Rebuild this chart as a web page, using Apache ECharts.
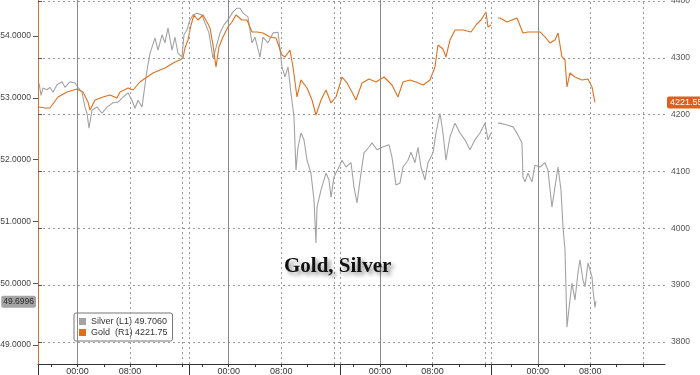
<!DOCTYPE html>
<html>
<head>
<meta charset="utf-8">
<script src="https://cdn.jsdelivr.net/npm/echarts@6/dist/echarts.min.js"></script>
<style>html,body{margin:0;padding:0;background:#fff;}#c{width:700px;height:375px;}</style>
</head>
<body>
<div id="c"></div>
<script>
// Trading-hour index (0 = session open 18:00)
const silverHours = [0.15,0.46,0.76,1.37,1.82,2.28,2.89,3.65,4.11,4.87,5.63,6.08,6.69,7.15,7.45,7.76,8.21,8.97,9.73,10.49,11.41,12.17,12.93,13.69,14.29,14.75,15.21,15.82,16.27,16.58,17.03,17.79,18.25,18.86,19.31,19.77,20.38,20.83,21.29,21.90,22.20,22.66,23.11,23.57,24.18,24.94,25.40,26.00,26.61,27.07,27.68,28.28,28.89,29.65,30.26,30.72,31.17,31.93,32.54,33.00,33.76,34.21,34.98,35.74,36.50,37.10,37.56,38.02,38.47,38.93,39.23,39.54,39.99,40.45,40.91,41.51,41.97,42.27,42.43,43.04,43.80,44.25,44.56,45.01,45.77,46.23,46.84,47.60,48.05,48.51,49.12,49.57,50.33,50.79,51.55,52.31,53.38,53.83,54.44,55.05,55.50,56.27,56.72,57.33,57.79,58.24,58.85,59.31,60.07,60.52,61.13,61.59,62.04,62.65,63.41,64.17,64.93,65.69,66.45,67.21,67.97,68.43,68.89,69.40,69.95,70.26,71.32,72.23,72.99,73.60,73.75,74.06,74.51,75.12,75.58,76.34,77.10,77.55,78.16,78.62,79.08,79.53,79.84,80.14,80.44,80.90,81.20,81.66,82.12,82.42,82.88,83.18,83.64,84.25,84.40,84.70,84.85];
const silverValues = [53.24,53.04,53.16,53.13,53.17,53.09,53.21,53.26,53.17,53.26,53.24,53.17,53.09,52.85,52.75,52.51,52.80,52.85,52.75,52.85,52.92,52.93,53.01,53.08,52.96,52.83,52.96,52.85,53.21,53.45,53.72,53.97,53.77,54.02,53.89,54.13,53.77,53.98,53.72,53.66,54.02,54.10,54.26,54.34,54.37,54.34,54.21,54.05,53.64,53.81,54.05,54.18,54.26,54.39,54.45,54.45,54.37,54.31,53.89,53.98,53.66,53.98,53.89,54.05,54.06,53.50,53.34,53.50,53.08,52.69,51.83,52.20,52.43,52.32,51.99,51.78,51.35,50.65,51.23,51.51,51.78,51.67,51.39,51.72,51.88,51.99,51.88,51.95,51.56,51.30,51.78,52.11,52.20,52.27,52.16,52.20,52.24,52.04,51.59,51.62,51.88,51.99,52.12,51.95,52.20,51.88,51.67,51.95,52.11,52.43,52.75,52.43,51.99,52.37,52.59,52.43,52.32,52.16,52.32,52.43,52.59,52.32,52.43,null,52.59,52.59,52.56,52.53,52.40,52.27,51.72,51.64,51.78,51.64,51.91,51.88,51.95,51.83,51.23,51.56,51.88,51.51,50.91,50.54,49.29,49.73,50.00,49.73,50.17,50.38,50.05,49.94,50.33,50.10,49.89,49.61,49.71];

const goldHours = [0.15,1.06,1.82,3.04,4.41,5.93,6.84,7.60,7.91,8.67,9.88,10.95,12.01,12.47,13.69,14.45,15.51,16.58,17.49,18.55,19.31,20.07,20.83,21.59,22.05,22.35,22.81,23.27,23.72,24.33,25.09,25.70,26.16,26.61,27.07,27.52,28.13,28.89,29.50,30.11,31.02,31.78,32.54,33.30,34.21,35.28,36.19,37.10,37.56,38.32,38.78,39.39,39.99,40.91,41.67,42.27,43.04,43.80,44.56,45.32,46.23,46.99,47.75,48.36,49.27,50.33,51.40,52.62,53.83,54.74,55.50,56.57,57.48,58.55,59.61,60.37,60.83,61.59,62.04,62.65,63.41,64.63,65.85,66.61,67.37,68.13,68.43,68.89,69.40,69.95,70.26,71.32,72.08,72.84,73.75,74.51,75.27,76.34,77.10,77.86,78.62,79.08,79.68,80.14,80.44,80.90,81.66,82.73,83.64,84.25,84.70];
const goldValues = [4213.6,4211.9,4211.9,4231.2,4240.0,4245.3,4240.0,4222.4,4208.3,4225.9,4231.2,4234.8,4229.5,4240.0,4247.1,4243.5,4257.6,4266.4,4273.5,4278.8,4282.3,4287.6,4292.8,4296.4,4299.9,4317.5,4331.6,4358.0,4375.6,4366.8,4375.6,4363.3,4352.7,4322.8,4284.0,4319.2,4336.9,4354.5,4363.3,4375.6,4366.8,4366.8,4345.7,4345.7,4343.9,4336.9,4335.1,4305.2,4301.6,4314.0,4284.0,4231.2,4261.2,4247.1,4225.9,4199.5,4225.9,4243.5,4220.7,4231.2,4266.4,4255.9,4240.0,4225.9,4255.9,4262.9,4257.6,4266.4,4252.3,4231.2,4257.6,4261.2,4257.6,4252.3,4261.2,4284.0,4322.8,4315.7,4301.6,4331.6,4349.2,4349.2,4345.7,4358.0,4366.8,4380.9,4354.5,4358.0,null,4370.3,4370.3,4363.3,4366.8,4370.3,4343.9,4345.7,4345.7,4345.7,4336.9,4326.3,4331.6,4343.9,4301.6,4296.4,4248.8,4273.5,4266.4,4261.2,4262.9,4248.8,4221.6];

const xLabelHours = [6,14,29,37,52,60,76,84];
const xLabelTexts = ['00:00','08:00','00:00','08:00','00:00','08:00','00:00','08:00'];
const minorTickHours = [2,6,10,14,18,22,25,29,33,37,41,45,48,52,56,60,64,68,72,76,80,84,88,92];
const sessionBreakHours = [0,23,46,69];
const midnightHours = [6,29,52,76];
const dottedHours = [14,22,23,37,45,46,60,68,69,84,92];
const silverTicks = [49,50,51,52,53,54];
const goldTicks = [3800,3900,4000,4100,4200,4300,4400];
const silverLast = 49.6996, goldLast = 4221.55;
const legendText = {Silver: 'Silver (L1) 49.7060', Gold: 'Gold  (R1) 4221.75'};

const zip = (a, b) => a.map((h, i) => [h, b[i]]);
const X_MAX = 95.35;
const GRID_C = '#9a9a9a';

const vLines = midnightHours.map(h => ({xAxis: h, lineStyle: {type: 'solid', color: '#8a8a8a', width: 1}}))
  .concat(dottedHours.map(h => ({xAxis: h, lineStyle: {type: [2, 3], color: GRID_C, width: 1}})));

const chart = echarts.init(document.getElementById('c'), null, {renderer: 'canvas'});
chart.setOption({
  animation: false,
  backgroundColor: '#fff',
  grid: {left: 38, right: 35, top: 0, bottom: 11, containLabel: false, outerBoundsMode: 'none'},
  title: {
    text: 'Gold, Silver', left: 279, top: 251,
    textStyle: {fontFamily: '"Liberation Serif", serif', fontWeight: 'bold', fontSize: 21, color: '#111',
      textShadowColor: 'rgba(0,0,0,0.45)', textShadowBlur: 4, textShadowOffsetX: 3, textShadowOffsetY: 3}
  },
  legend: {
    orient: 'vertical', left: 74, top: 313, itemWidth: 7, itemHeight: 7, itemGap: 2,
    padding: [4, 5, 4, 5], backgroundColor: '#fff', borderColor: '#777', borderWidth: 1, borderRadius: 2,
    textStyle: {fontFamily: '"Liberation Sans", Arial', fontSize: 9, color: '#333'},
    formatter: n => legendText[n],
    data: [{name: 'Silver', icon: 'rect'}, {name: 'Gold', icon: 'rect'}]
  },
  xAxis: [{
    type: 'value', min: 0, max: X_MAX,
    axisLine: {show: true, onZero: false, lineStyle: {color: '#333', width: 1}},
    axisTick: {show: true, length: 3, customValues: minorTickHours, lineStyle: {color: '#333'}},
    axisLabel: {show: true, customValues: xLabelHours, margin: 3, fontFamily: '"Liberation Sans", Arial', fontSize: 9, color: '#333',
      formatter: v => { const i = xLabelHours.indexOf(v); return i >= 0 ? xLabelTexts[i] : ''; }},
    splitLine: {show: false}
  }, {
    type: 'value', min: 0, max: X_MAX, position: 'bottom',
    axisLine: {show: false},
    axisTick: {show: true, length: 12, customValues: sessionBreakHours, lineStyle: {color: '#333', width: 1}},
    axisLabel: {show: false},
    splitLine: {show: false}
  }],
  yAxis: [{
    type: 'value', position: 'left', min: 48.693, max: 54.5825,
    axisLine: {show: true, lineStyle: {color: GRID_C, type: [2, 3]}},
    axisTick: {show: true, length: 5, customValues: silverTicks, lineStyle: {color: '#555'}},
    axisLabel: {customValues: silverTicks, margin: 7, fontFamily: '"Liberation Sans", Arial', fontSize: 8.5, color: '#444',
      formatter: v => v.toFixed(4)},
    splitLine: {show: false}
  }, {
    type: 'value', position: 'right', min: 3761, max: 4402,
    axisLine: {show: true, lineStyle: {color: '#e0701e', width: 1}},
    axisTick: {show: true, length: 4, customValues: goldTicks, lineStyle: {color: '#555'}},
    axisLabel: {customValues: goldTicks, margin: 6, fontFamily: '"Liberation Sans", Arial', fontSize: 8.5, color: '#555',
      formatter: v => String(v)},
    splitLine: {show: true, lineStyle: {color: GRID_C, type: [2, 3], width: 1}}
  }],
  series: [{
    name: 'grid', type: 'line', data: [], yAxisIndex: 1, z: 1, silent: true,
    markLine: {silent: true, symbol: ['none', 'none'], label: {show: false}, data: vLines}
  }, {
    name: 'Silver', type: 'line', yAxisIndex: 0, z: 2, showSymbol: false, symbol: 'none',
    data: zip(silverHours, silverValues), connectNulls: false,
    itemStyle: {color: '#a3a3a3'}, lineStyle: {color: '#a3a3a3', width: 1.1},
    markLine: {silent: true, symbol: ['none', 'none'],
      data: [{yAxis: silverLast, lineStyle: {color: 'rgba(0,0,0,0)', width: 0},
        label: {show: true, position: 'start', distance: 2, formatter: silverLast.toFixed(4),
          backgroundColor: '#a4a4a4', color: '#2a2a2a', fontFamily: '"Liberation Sans", Arial', fontSize: 8.5, padding: [2, 2, 1, 2], borderRadius: 2}}]}
  }, {
    name: 'Gold', type: 'line', yAxisIndex: 1, z: 3, showSymbol: false, symbol: 'none',
    data: zip(goldHours, goldValues), connectNulls: false,
    itemStyle: {color: '#e0701e'}, lineStyle: {color: '#e0701e', width: 1.1},
    markLine: {silent: true, symbol: ['none', 'none'],
      data: [{yAxis: goldLast, lineStyle: {color: 'rgba(0,0,0,0)', width: 0},
        label: {show: true, position: 'end', distance: 2, formatter: goldLast.toFixed(2),
          backgroundColor: '#e0601a', color: '#fff', fontFamily: '"Liberation Sans", Arial', fontSize: 9, padding: [2, 3, 1, 3], borderRadius: 2}}]}
  }]
});
</script>
</body>
</html>
